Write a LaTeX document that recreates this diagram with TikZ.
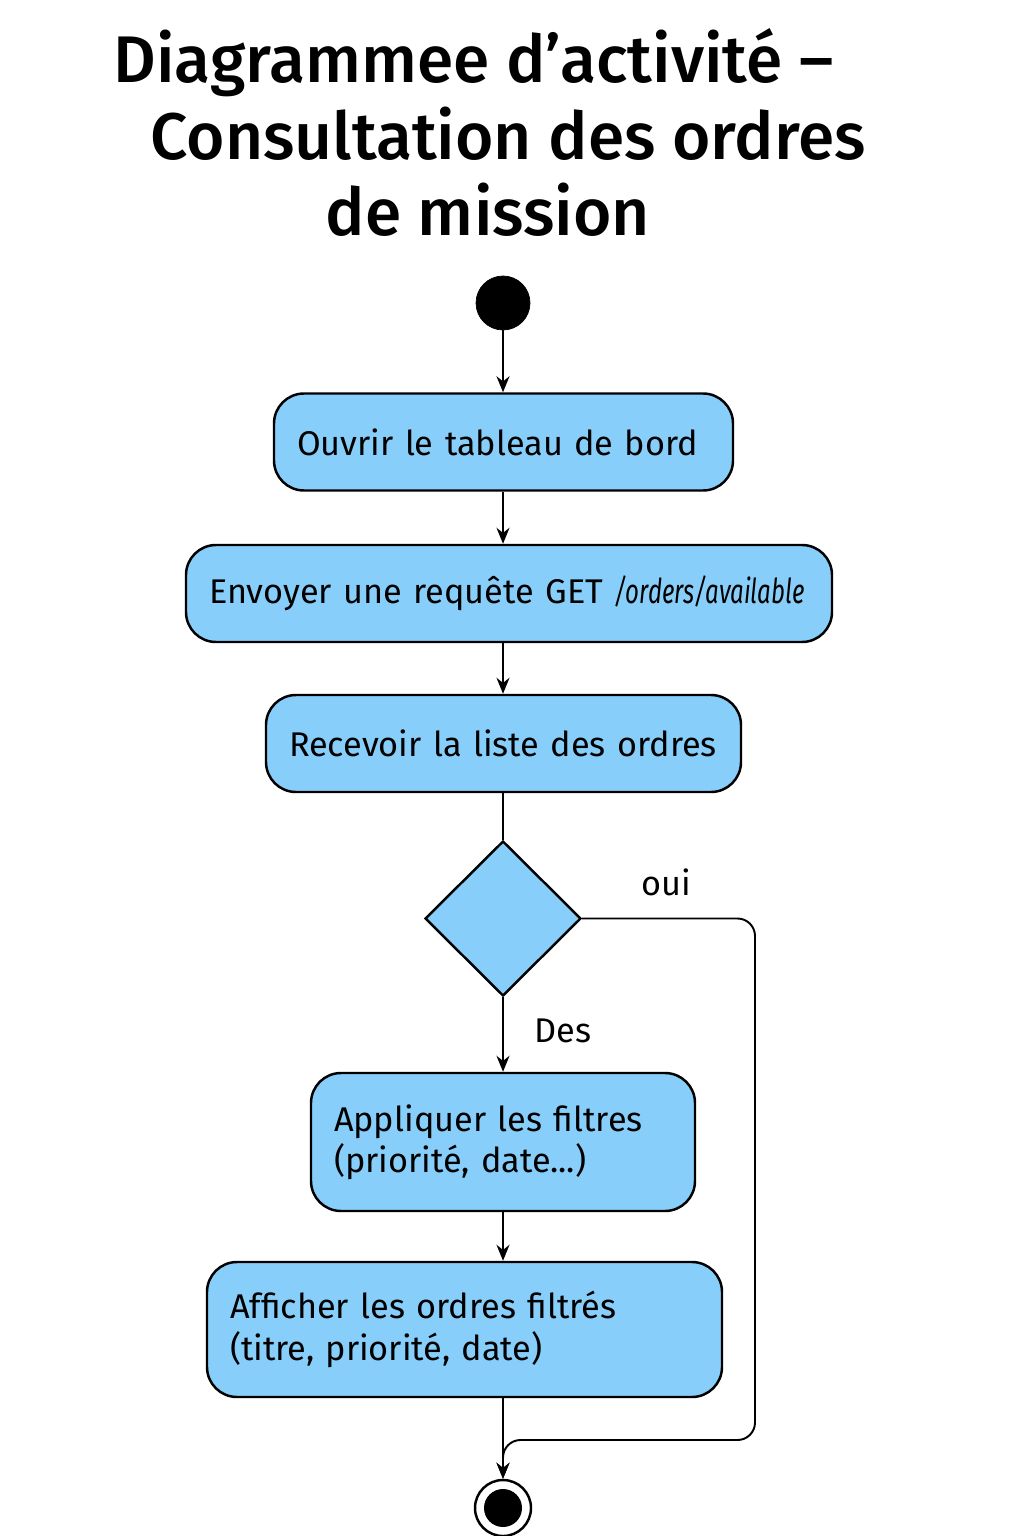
\documentclass[tikz,border=0pt]{standalone}
\usepackage{fontspec}
\setmainfont{Fira Sans}
\newfontfamily\titlefont{Fira Sans Medium}
\newfontfamily\pathfont{Fira Sans}[FakeStretch=0.7]
\usetikzlibrary{shapes.geometric,arrows.meta}

\definecolor{actfill}{HTML}{87CEFA}

\tikzset{
	action/.style={draw, rounded corners=0.6cm, fill=actfill, line width=1.4pt, inner xsep=0.46cm, align=left, font=\fontsize{19.5}{23.5}\selectfont},
	flow/.style={-{Stealth[length=0.32cm,width=0.26cm]}, line width=1.1pt},
	guard/.style={font=\fontsize{19.5}{23.5}\selectfont},
	heading/.style={anchor=base, font=\fontsize{37.5}{44}\selectfont\titlefont}
}

\begin{document}
\begin{tikzpicture}
			\useasboundingbox (0,0) rectangle (20.48,-30.72);
			
			\node[heading] (title1) at (9.47,-1.66) {Diagrammee d’activité –};
			\node[heading] (title2) at (10.16,-3.2) {Consultation des ordres};
			\node[heading] (title3) at (9.76,-4.72) {de mission};
			
			\node[draw, circle, fill=black, minimum size=1.08cm] (start) at (10.06,-6.06) { };
			
			\node[action, text width=8.26cm, minimum height=1.94cm] (box1) at (10.07,-8.84) {Ouvrir le tableau de bord};
			\node[action, text width=12cm, minimum height=1.94cm] (box2) at (10.18,-11.87) {\mbox{Envoyer une requête GET {\pathfont\itshape /orders/available}}};
			\node[action, text width=8.58cm, minimum height=1.94cm] (box3) at (10.07,-14.87) {Recevoir la liste des ordres};
			\node[draw, diamond, fill=actfill, line width=1.4pt, inner sep=0pt, minimum width=3.12cm, minimum height=3.1cm] (dec) at (10.06,-18.37) { };
			\node[action, text width=6.76cm, minimum height=2.76cm] (box4) at (10.06,-22.84) {Appliquer les filtres\\(priorité, date...)};
			\node[action, text width=9.38cm, minimum height=2.7cm] (box5) at (9.29,-26.59) {Afficher les ordres filtrés\\(titre, priorité, date)};
			
			\node[draw, circle, line width=1.4pt, minimum size=1.12cm] (end) at (10.06,-30.16) { };
			\fill (end) circle (0.38cm);
			
			\foreach \a/\b in {start/box1, box1/box2, box2/box3, box4/box5, box5/end}
			{
				\path[flow] (\a.south -| start) edge (\b.north -| start);
			}
			\draw[line width=1.1pt] (box3.south -| start) -- (dec.north);
			\draw[flow] (dec.south) -- node[guard, right=0.5cm, pos=0.45] (des) {Des} (box4.north -| start);
			
			\coordinate (loop) at (15.1,-28.8);
			\draw[flow, rounded corners=0.35cm] (dec.east) -| (loop) -- (loop -| end) -- (end.north);
			\node[guard] (oui) at (13.32,-17.64) {oui};
			\end{tikzpicture}
\end{document}
